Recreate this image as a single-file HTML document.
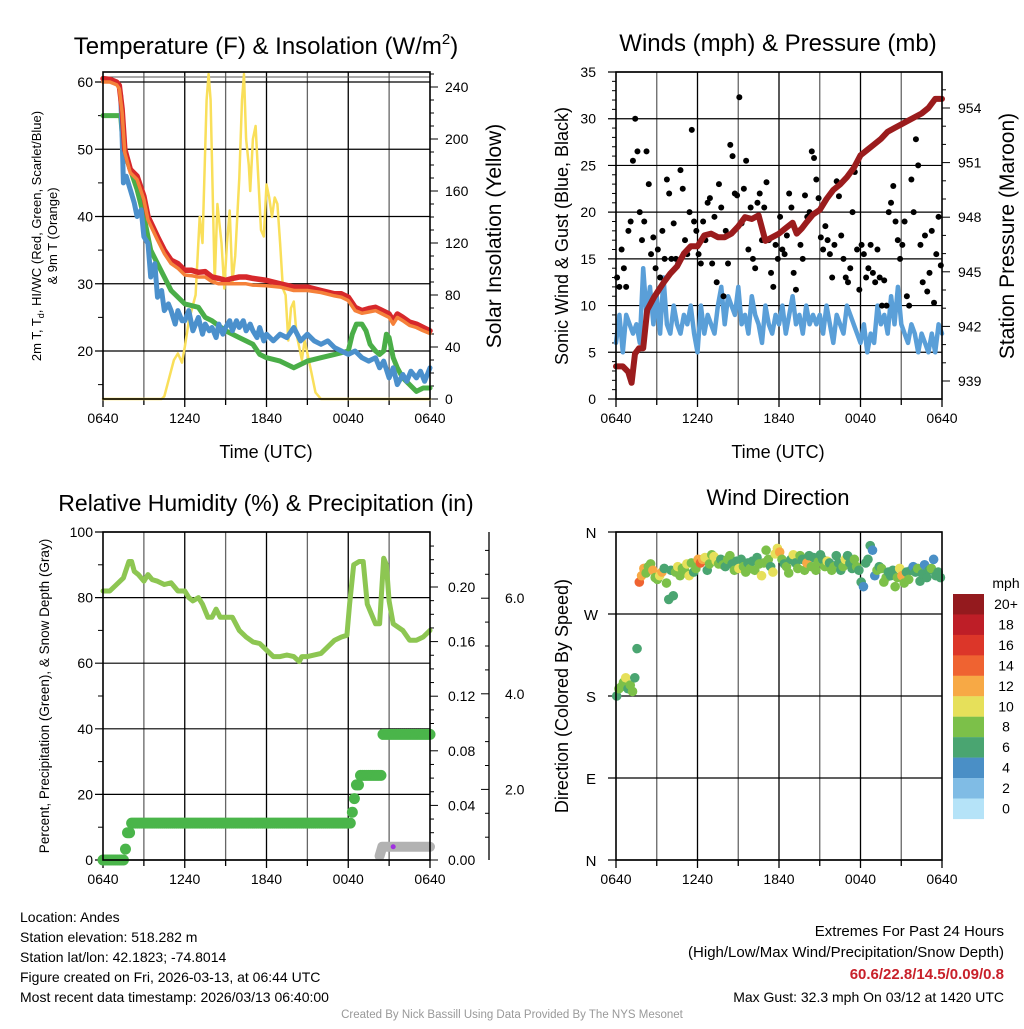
<!DOCTYPE html>
<html><head><meta charset="utf-8"><style>
body{margin:0;background:#fff}
svg text{font-family:"Liberation Sans",sans-serif;fill:#000}
</style></head><body>
<svg id="c" width="1024" height="1024" viewBox="0 0 1024 1024" xmlns="http://www.w3.org/2000/svg">
<rect width="1024" height="1024" fill="#fff"/>
</svg>
<script>
// ===== data (hours since 0640 UTC) =====
const tempHours=[0,0.5,1.0,1.2,1.4,1.6,2,2.5,3,3.3,4,4.5,5,5.5,6,6.5,7,7.5,8,8.5,9,9.5,10,10.5,11,12,13,14,15,16,17,17.5,18,18.5,19,19.5,20,20.5,21,21.3,21.6,22,22.5,23,23.5,24];
const tempRed=[60.5,60.4,60,59.5,56,50,47,46,43,40,37,35,33.5,33,32,32,31.7,31.8,31,30.8,30.5,30.8,31,31,30.8,30.5,30,29.5,29.5,29,28.5,28.5,28,26.5,26,26.3,26.5,26,25.5,24.5,25.5,25,24.3,24,23.5,23];
const tempOrange=[60,60,59.6,59,55.5,49.5,46.5,45.5,42.5,39.5,36.5,34.5,33,32.3,31.3,31.2,31,31,30.3,30,30,30,30,30,29.8,29.7,29.5,29,29,28.7,28.2,28,27.5,26,25.6,25.8,26,25.5,25,24,25,24.5,23.8,23.5,23,22.6];
const dewHours=[0,1.1,1.3,1.5,2,2.5,3,3.5,4,4.5,5,6,7,7.5,8,9,10,11,11.5,12,13,14,15,16,17,18,18.3,18.6,19,19.3,19.6,20,20.3,20.6,20.8,21,21.3,21.6,22,22.5,23,23.5,24];
const dewGreen=[55,55,55,50,47,44,40,35,33,31,29,27,26.5,25,24.5,23,22,21,19.5,19,18.5,17.5,18.5,19,19.5,20,22.5,24,24,23,21,20,19.5,20,22.5,22,19,17.5,16,15,14,14.5,14.5];
const hiHours=[1.3,1.4,1.5,1.7,2,2.3,2.5,2.8,3,3.3,3.5,3.8,4,4.3,4.5,4.8,5,5.3,5.5,5.8,6,6.3,6.6,7,7.3,7.5,7.8,8,8.3,8.5,8.8,9,9.3,9.5,9.8,10,10.3,10.5,10.8,11,11.3,11.5,11.8,12,12.5,13,13.5,14,14.5,15,15.5,16,16.5,17,17.5,18,18.5,19,19.5,20,20.3,20.6,21,21.3,21.6,22,22.3,22.6,23,23.3,23.6,24];
const hiBlue=[58,52,45,46,44,42,40,41,37,36,31,33,28,29,26,27,26,24,26,24.5,24.5,26,23,25,22.5,24,23,23.5,22,24,22.5,23.5,24.5,23,24.5,23.5,24.5,23,24,23,22,23.5,21.5,22.5,21.5,22.5,22,23.5,21.5,22.5,21.5,21,21.5,20.5,20,19.5,20,19,18.5,19,17.5,18.5,16,17.5,15,16.5,15.5,17,16,17,15.5,17.5,15];
const solarHours=[0,4.3,4.5,5.2,5.5,5.8,6.0,6.3,6.8,7.1,7.3,7.6,7.75,7.9,8.2,8.4,8.7,8.9,9.1,9.3,9.5,9.7,10,10.2,10.35,10.5,10.7,10.8,11,11.2,11.4,11.6,11.8,12,12.2,12.4,12.6,12.8,13,13.2,13.4,13.6,13.8,14,14.2,14.4,14.6,14.8,15,15.3,15.6,16,24];
const solarVals=[0,0,2,30,35,28,40,60,80,140,120,230,250,230,90,150,120,85,120,145,90,110,170,230,250,200,180,160,200,210,170,130,125,165,155,140,155,150,120,85,80,45,70,75,50,40,30,45,35,20,5,0,0];
const windVals=[6,9,5,9,8,7,8,6,14,9,12,8,11,7,13,8,7,10,8,7,9,8,10,7,5,10,7,9,8,7,10,12,8,11,10,9,12,8,9,7,11,9,8,6,10,8,7,9,8,10,7,9,11,8,9,7,10,8,9,8,9,7,10,8,6,9,8,7,10,9,8,7,6,8,5,7,6,10,8,9,7,11,8,12,8,7,6,8,7,5,7,6,5,7,5,8,7];
const gustVals=[13,12,16,14,12,18,19,25.5,30,26.5,20,17,19,26.5,23,15.5,17.3,14,16,13,18,15,23.5,22,15,18.8,15,14.5,24.5,22.5,17,15.5,20,28.8,19,18,15.5,14.5,19,17,21,21.5,14.5,19.5,12.5,23,20.5,11,18,14.5,27.2,26,22,21.8,32.3,18.8,22.5,25.5,16,20.5,15,14,21,22,17,20.5,23.2,17,13.5,12,16.5,15,19.5,16,15.5,17.5,22,20.5,13.5,11.7,18,16.5,15,21.8,19.5,20,26.5,25.8,23.5,21.5,17.3,16,18.5,17,15.5,13,16.5,23.3,21.7,17.5,15,13,12.5,14,20,24.3,16,11.7,16.5,15.5,13,14,16.5,13.5,12.5,16,13,10,12.7,10,20,21,22.8,19,17,15,16.5,19,11,10,23.5,20,27.8,25,16.5,12.5,17.5,11.5,13.5,18,10.3,15.5,19.5,14.3];
const presHours=[0,0.5,0.9,1.15,1.4,1.7,2.0,2.3,2.8,3.5,4,4.5,5,5.5,6,6.5,7,7.5,8,8.5,9,9.5,10,10.5,11,11.5,12,12.5,13,13.3,13.7,14,14.5,15,15.5,16,16.5,17,17.5,18,18.5,19,19.5,20,20.5,21,21.5,22,22.5,23,23.5,24];
const presVals=[939.8,939.8,939.5,938.9,940.5,940.8,940.8,942.9,943.6,944.4,944.9,945.3,946.0,946.4,946.4,947.0,947.1,946.9,946.9,947.1,947.5,948.0,947.9,948.1,946.7,946.9,947.1,947.4,947.7,947.1,947.4,947.7,948.15,948.4,949.0,949.5,949.8,950.2,950.7,951.4,951.7,952.0,952.3,952.7,952.9,953.1,953.3,953.5,953.7,954.0,954.5,954.5];
const rhHours=[0,0.5,1,1.5,1.9,2.1,2.3,2.6,3,3.3,3.6,4,4.5,5,5.5,6,6.3,6.6,7,7.3,7.7,8,8.3,8.6,9,9.5,10,10.5,11,11.5,12,12.5,13,13.5,14,14.4,14.6,15,16,16.5,17,17.5,17.9,18.1,18.4,18.8,19.1,19.4,19.7,20,20.3,20.6,20.8,21,21.3,22,22.5,23,23.5,24];
const rhVals=[82,82,84,86,91,91,88,87,85,87,85.5,85,84,84.5,82,82,80,79,80,78,74,74,76.5,74,74,74,70,68,66.5,66,64,62,62,62.5,62,60.5,62,62,63,65,67,68,68.5,78,90,91,91,78,75,72,72,92,90,79,72,70,67,67,68,70];
const precipHours=[0,1.4,1.5,1.7,2.0,18.0,18.2,18.4,18.6,18.9,20.3,20.4,20.5,24];
const precipVals=[0,0,0.008,0.02,0.027,0.027,0.035,0.045,0.055,0.062,0.062,0.073,0.092,0.093];
const snowHours=[20.3,20.5,24];
const snowVals=[0,0.8,0.8];
const dirDeg=[180,188,190,195,200,188,192,185,200,232,305,312,320,315,322,325,318,310,308,312,316,320,304,286,318,290,316,322,312,320,318,325,312,326,316,320,330,326,330,332,318,325,335,333,328,325,330,324,322,330,334,325,318,328,320,330,322,316,326,320,328,318,332,325,312,326,340,330,322,316,336,342,338,330,325,322,315,330,335,326,320,334,330,318,326,334,322,332,318,327,335,330,322,328,326,318,322,334,326,318,322,330,334,326,320,330,322,318,305,300,326,330,345,340,312,318,322,320,305,310,316,312,318,300,310,320,312,304,316,308,318,322,316,320,306,314,324,310,318,320,330,312,316,310];
const dirSpeed=[6,8,8,7,10,6,8,7,6,6,14,12,12,8,8,8,12,8,7,10,12,6,8,6,6,6,8,10,8,7,8,10,10,8,6,8,12,14,12,10,6,8,8,10,10,8,6,8,6,8,8,6,8,6,10,6,8,8,6,8,6,8,6,8,10,8,8,8,6,10,10,10,12,8,6,8,8,6,10,6,8,8,6,8,12,6,8,6,8,8,6,6,8,10,6,8,8,6,6,6,8,10,6,6,6,8,8,6,6,4,6,6,6,4,4,8,6,8,8,8,6,6,6,8,8,10,12,8,6,8,6,4,6,8,6,6,4,6,6,8,4,6,6,6];
const speedBins=["0","2","4","6","8","10","12","14","16","18","20+"];
const speedColors=["#b5e3f8","#80bce5","#4a8fc6","#4aa571","#7cc049","#e6e05a","#f7a945","#ef6331","#dc3629","#be1e27","#941a1e"];

// ===== drawing =====
const S=document.getElementById('c');const NS='http://www.w3.org/2000/svg';
function el(t,a,p){const e=document.createElementNS(NS,t);for(const k in a)e.setAttribute(k,a[k]);(p||S).appendChild(e);return e;}
function txt(x,y,s,size,anchor,rot,fill){const e=el('text',{x:x,y:y,'font-size':size,'text-anchor':anchor||'middle'});if(rot)e.setAttribute('transform','rotate(-90 '+x+' '+y+')');if(fill)e.setAttribute('style','fill:'+fill);e.textContent=s;return e;}
function xs(x0,x1){return h=>x0+(x1-x0)*h/24;}
function line(X,Y,hs,vs,color,w,name){let d='';hs.forEach((h,i)=>{d+=(i?'L':'M')+X(h).toFixed(1)+' '+Y(vs[i]).toFixed(1);});const p=el('path',{d:d,fill:'none',stroke:color,'stroke-width':w,'stroke-linejoin':'round','stroke-linecap':'round'});return p;}
function frame(x0,x1,y0,y1,name){
  const g=el('g',{});
  for(let i=1;i<8;i++){const x=x0+(x1-x0)*i/8;el('line',{x1:x,x2:x,y1:y0,y2:y1,stroke:i%2?'#666':'#000','stroke-width':1.3},g);}
  for(let i=0;i<=8;i++){const x=x0+(x1-x0)*i/8;el('line',{x1:x,x2:x,y1:y1,y2:y1+(i%2?6:8),stroke:'#000','stroke-width':1.3},g);}
  const labs=['0640','1240','1840','0040','0640'];
  labs.forEach((l,i)=>{txt(x0+(x1-x0)*i/4,y1+24,l,14);});
  return g;}
function hgrid(x0,x1,y,len){el('line',{x1:x0-(len||8),x2:x1,y1:y,y2:y,stroke:'#000','stroke-width':1.2});}
function box(x0,x1,y0,y1){el('rect',{x:x0,y:y0,width:x1-x0,height:y1-y0,fill:'none',stroke:'#000','stroke-width':1.6});}

// ---- Panel 1 ----
(function(){
const x0=103,x1=430,y0=72,y1=399,X=xs(x0,x1);
const YT=v=>351-(v-20)*6.725, YS=v=>399-v*1.3;
txt(266,54,'Temperature (F) & Insolation (W/m',24,'middle').innerHTML='Temperature (F) &amp; Insolation (W/m<tspan font-size="15" dy="-10">2</tspan><tspan dy="10">)</tspan>';
frame(x0,x1,y0,y1,'temp-panel-grid');
[20,30,40,50,60].forEach(v=>{hgrid(x0,x1,YT(v));txt(93,YT(v)+5,String(v),14,'end');});
[15,25,35,45,55].forEach(v=>el('line',{x1:x0-5,x2:x0,y1:YT(v),y2:YT(v),stroke:'#000'}));
el('line',{x1:x0,x2:x1,y1:77,y2:77,stroke:'#555'});
for(let v=0;v<=250;v+=10){const y=YS(v);if(y<y0)break;el('line',{x1:x1,x2:x1+(v%40?4:8),y1:y,y2:y,stroke:'#000'});if(v%40==0)txt(445,y+5,String(v),14,'start');}
line(X,YS,solarHours,solarVals,'#f9df5a',2.5,'solar-line');
line(X,YT,dewHours,dewGreen,'#4aae48',5,'dewpoint-line');
line(X,YT,hiHours,hiBlue,'#4b90cc',5,'wind-chill-line');
line(X,YT,tempHours,tempRed,'#d7282b',5.5,'temp-2m-line');
line(X,YT,tempHours,tempOrange,'#f5813a',3.5,'temp-9m-line');
box(x0,x1,y0,y1);
txt(266,458,'Time (UTC)',18);
txt(41,236,'2m T, T',13,'middle',true).innerHTML='2m T, T<tspan font-size="9" dy="3">d</tspan><tspan dy="-3">, HI/WC (Red, Green, Scarlet/Blue)</tspan>';
txt(57,236,'& 9m T (Orange)',13,'middle',true);
txt(501,236,'Solar Insolation (Yellow)',21,'middle',true);
})();

// ---- Panel 2 ----
(function(){
const x0=616,x1=942,y0=72,y1=399,X=xs(x0,x1);
const YW=v=>399-v*327/35, YP=v=>381-(v-939)*18.2;
txt(778,51,'Winds (mph) & Pressure (mb)',24);
frame(x0,x1,y0,y1,'wind-panel-grid');
for(let v=0;v<=35;v+=5){hgrid(x0,x1,YW(v));txt(596,YW(v)+5,String(v),14,'end');}
for(let v=1;v<35;v++)if(v%5)el('line',{x1:x0-4,x2:x0,y1:YW(v),y2:YW(v),stroke:'#000'});
for(let v=938;v<=955;v++){const y=YP(v);if(y>y1||y<y0)continue;el('line',{x1:x1,x2:x1+(v%3?4:8),y1:y,y2:y,stroke:'#000'});if(v%3==0)txt(958,y+5,String(v),14,'start');}
const windHours=windVals.map((v,i)=>i*24/(windVals.length-1));
line(X,YW,windHours,windVals,'#5a9fd8',4.5,'sonic-wind-line');
gustVals.forEach((v,i)=>{const c=el('circle',{cx:X(i*24/gustVals.length+0.08),cy:YW(v),r:3,fill:'#000'});});
line(X,YP,presHours,presVals,'#9b1c1d',6,'pressure-line');
box(x0,x1,y0,y1);
txt(778,458,'Time (UTC)',18);
txt(568,236,'Sonic Wind & Gust (Blue, Black)',18,'middle',true);
txt(1014,236,'Station Pressure (Maroon)',21,'middle',true);
})();

// ---- Panel 3 ----
(function(){
const x0=103,x1=430,y0=532,y1=860,X=xs(x0,x1);
const YR=v=>860-v*3.28, YPr=v=>860-v*1365, YSn=v=>Math.min(856,885-v*47.8);
txt(266,511,'Relative Humidity (%) & Precipitation (in)',23);
frame(x0,x1,y0,y1,'rh-panel-grid');
for(let v=0;v<=100;v+=20){hgrid(x0,x1,YR(v));txt(93,YR(v)+5,String(v),14,'end');}
for(let v=10;v<100;v+=20)el('line',{x1:x0-5,x2:x0,y1:YR(v),y2:YR(v),stroke:'#000'});
for(let v=0;v<=0.24;v+=0.01){const y=YPr(v);if(y<y0)break;const maj=Math.round(v*100)%4==0;el('line',{x1:x1,x2:x1+(maj?8:4),y1:y,y2:y,stroke:'#000'});if(maj)txt(448,y+5,v.toFixed(2),14,'start');}
el('line',{x1:489,x2:489,y1:y0,y2:y1,stroke:'#000','stroke-width':1.3});
for(let v=1;v<=7;v+=0.5){const y=885-v*47.8;if(y<y0||y>y1)continue;el('line',{x1:489,x2:489-(v%2?4:8),y1:y,y2:y,stroke:'#000'});if(v%2==0)txt(505,y+5,v.toFixed(1),14,'start');}
line(X,YR,rhHours,rhVals,'#8dc652',5,'rh-line');
line(X,YSn,snowHours,snowVals,'#b2b2b2',10,'snow-depth-line');
for(let h=0;h<=24;h+=0.15){let i=0;while(i<precipHours.length-1&&precipHours[i+1]<=h)i++;const v=precipVals[i];const c=el('circle',{cx:X(h),cy:YPr(v),r:5.5,fill:'#4ab54a'});}
el('circle',{cx:X(21.3),cy:YSn(0.8),r:2.5,fill:'#a030e0'});
box(x0,x1,y0,y1);
txt(49,696,'Percent, Precipitation (Green), & Snow Depth (Gray)',13.5,'middle',true);
})();

// ---- Panel 4 ----
(function(){
const x0=616,x1=942,y0=532,y1=860,X=xs(x0,x1);
const YD=d=>860-d*328/360;
txt(778,505,'Wind Direction',22);
frame(x0,x1,y0,y1,'direction-panel-grid');
['N','E','S','W','N'].forEach((l,i)=>{const y=YD(i*90);hgrid(x0,x1,y);txt(591,y+6,l,15);});
function bin(s){return Math.min(10,Math.floor(s/2+0.5));}
dirDeg.forEach((d,i)=>{const c=el('circle',{cx:X(i*24/dirDeg.length+0.05),cy:YD(d),r:4.8,fill:speedColors[bin(dirSpeed[i])]});});
box(x0,x1,y0,y1);
txt(568,696,'Direction (Colored By Speed)',18,'middle',true);
const lg=el('g',{});
txt(1006,588,'mph',14);
for(let i=0;i<11;i++){const k=10-i;const y=594+i*20.45;el('rect',{x:953,y:y,width:31,height:20.6,fill:speedColors[k]},lg);txt(1006,y+15,speedBins[k],14);}
})();

// ---- footer ----
const fl=['Location: Andes','Station elevation: 518.282 m','Station lat/lon: 42.1823; -74.8014','Figure created on Fri, 2026-03-13, at 06:44 UTC','Most recent data timestamp: 2026/03/13 06:40:00'];
fl.forEach((s,i)=>txt(20,922+i*20,s,14,'start'));
txt(1004,936,'Extremes For Past 24 Hours',15,'end');
txt(1004,957,'(High/Low/Max Wind/Precipitation/Snow Depth)',15,'end');
const ex=txt(1004,979,'60.6/22.8/14.5/0.09/0.8',15,'end','', '#c8202a');ex.setAttribute('font-weight','bold');
txt(1004,1002,'Max Gust: 32.3 mph On 03/12 at 1420 UTC',14,'end');
txt(512,1018,'Created By Nick Bassill Using Data Provided By The NYS Mesonet',11.5,'middle','', '#999');
</script>
</body></html>
